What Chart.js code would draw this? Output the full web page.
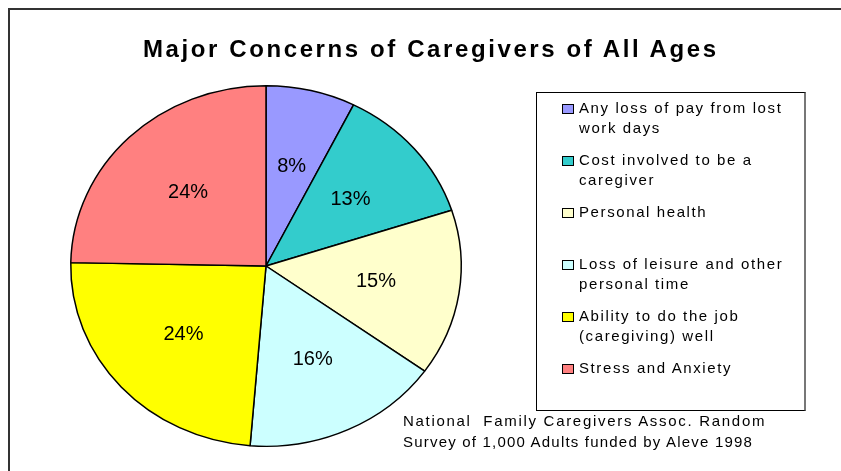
<!DOCTYPE html>
<html>
<head>
<meta charset="utf-8">
<script src="https://cdn.jsdelivr.net/npm/chart.js@4.4.0/dist/chart.umd.min.js"></script>
<style>
  body { margin:0; background:#fff; font-family:"Liberation Sans", Arial, sans-serif; }
  #wrap { position:relative; width:841px; height:471px; overflow:hidden; }
  #frame { position:absolute; left:8px; top:8px; width:900px; height:500px; border-left:2px solid #333; border-top:2px solid #333; }
  #title { position:absolute; left:143px; top:37px; font-size:24px; line-height:23px; font-weight:bold; letter-spacing:2.6px; white-space:nowrap; }
  #legend { position:absolute; left:536px; top:92px; width:270px; height:319px; border:1px solid #000; border-right:2px solid #777; box-sizing:border-box; }
  .item { position:absolute; left:579px; font-size:15px; line-height:20px; letter-spacing:1.6px; white-space:nowrap; }
  .sw { position:absolute; left:-17px; top:6px; width:12px; height:10px; border:1.5px solid #000; box-sizing:border-box; }
  #source { position:absolute; left:403px; top:410px; font-size:15px; line-height:21px; letter-spacing:1.2px; white-space:nowrap; }
  #source .wide { letter-spacing:1.7px; }
  canvas { position:absolute; left:0; top:0; }
</style>
</head>
<body>
<div id="wrap">
  <div id="frame"></div>
  <canvas id="pie" width="841" height="471"></canvas>
  <div id="title">Major Concerns of Caregivers of All Ages</div>
  <div id="legend"></div>
  <div id="items"></div>
  <div id="source"><span class="wide">National&nbsp; Family Caregivers Assoc. Random</span><br>Survey of 1,000 Adults funded by Aleve 1998</div>
</div>
<script>
// datos
const categories = [
  'Any loss of pay from lost\nwork days',
  'Cost involved to be a\ncaregiver',
  'Personal health',
  'Loss of leisure and other\npersonal time',
  'Ability to do the job\n(caregiving) well',
  'Stress and Anxiety'
];
// slice sizes as measured on the picture, and the printed labels
const shares = [7.4, 12.6, 14.9, 16.4, 24.0, 24.7];
const pctLabels = ['8%', '13%', '15%', '16%', '24%', '24%'];
const colors = ['#9999FF', '#33CCCC', '#FFFFCC', '#CCFFFF', '#FFFF00', '#FF8080'];

// leyenda en html
const items = document.getElementById('items');
categories.forEach((c, i) => {
  const div = document.createElement('div');
  div.className = 'item';
  div.style.top = (98 + 52 * i) + 'px';
  div.innerHTML = '<span class="sw" style="background:' + colors[i] + '"></span>' + c.replace('\n', '<br>');
  items.appendChild(div);
});

const yScale = 181 / 196; // pie is a bit flattened

const ovalPie = {
  id: 'ovalPie',
  beforeDatasetsDraw(chart) {
    const a = chart.chartArea;
    const cx = (a.left + a.right) / 2, cy = (a.top + a.bottom) / 2;
    const ctx = chart.ctx;
    ctx.save();
    ctx.translate(cx, cy);
    ctx.scale(1, yScale);
    ctx.translate(-cx, -cy);
  },
  afterDatasetsDraw(chart) {
    const ctx = chart.ctx;
    ctx.restore();
    const meta = chart.getDatasetMeta(0);
    ctx.save();
    ctx.font = '20px "Liberation Sans", Arial, sans-serif';
    ctx.fillStyle = '#000';
    ctx.textAlign = 'center';
    ctx.textBaseline = 'middle';
    meta.data.forEach((arc, i) => {
      const p = arc.getProps(['x', 'y', 'startAngle', 'endAngle', 'outerRadius']);
      const mid = (p.startAngle + p.endAngle) / 2;
      const r = p.outerRadius * 0.57;
      ctx.fillText(pctLabels[i], p.x + Math.cos(mid) * r, p.y + Math.sin(mid) * r * yScale);
    });
    ctx.restore();
  }
};

new Chart(document.getElementById('pie'), {
  type: 'pie',
  data: {
    labels: categories,
    datasets: [{
      data: shares,
      backgroundColor: colors,
      borderColor: '#000',
      borderWidth: 1.5,
      hoverOffset: 0
    }]
  },
  options: {
    responsive: false,
    animation: false,
    layout: { padding: { left: 70, top: 70, right: 379, bottom: 9 } },
    plugins: { legend: { display: false }, tooltip: { enabled: false }, title: { display: false } }
  },
  plugins: [ovalPie]
});
</script>
</body>
</html>
